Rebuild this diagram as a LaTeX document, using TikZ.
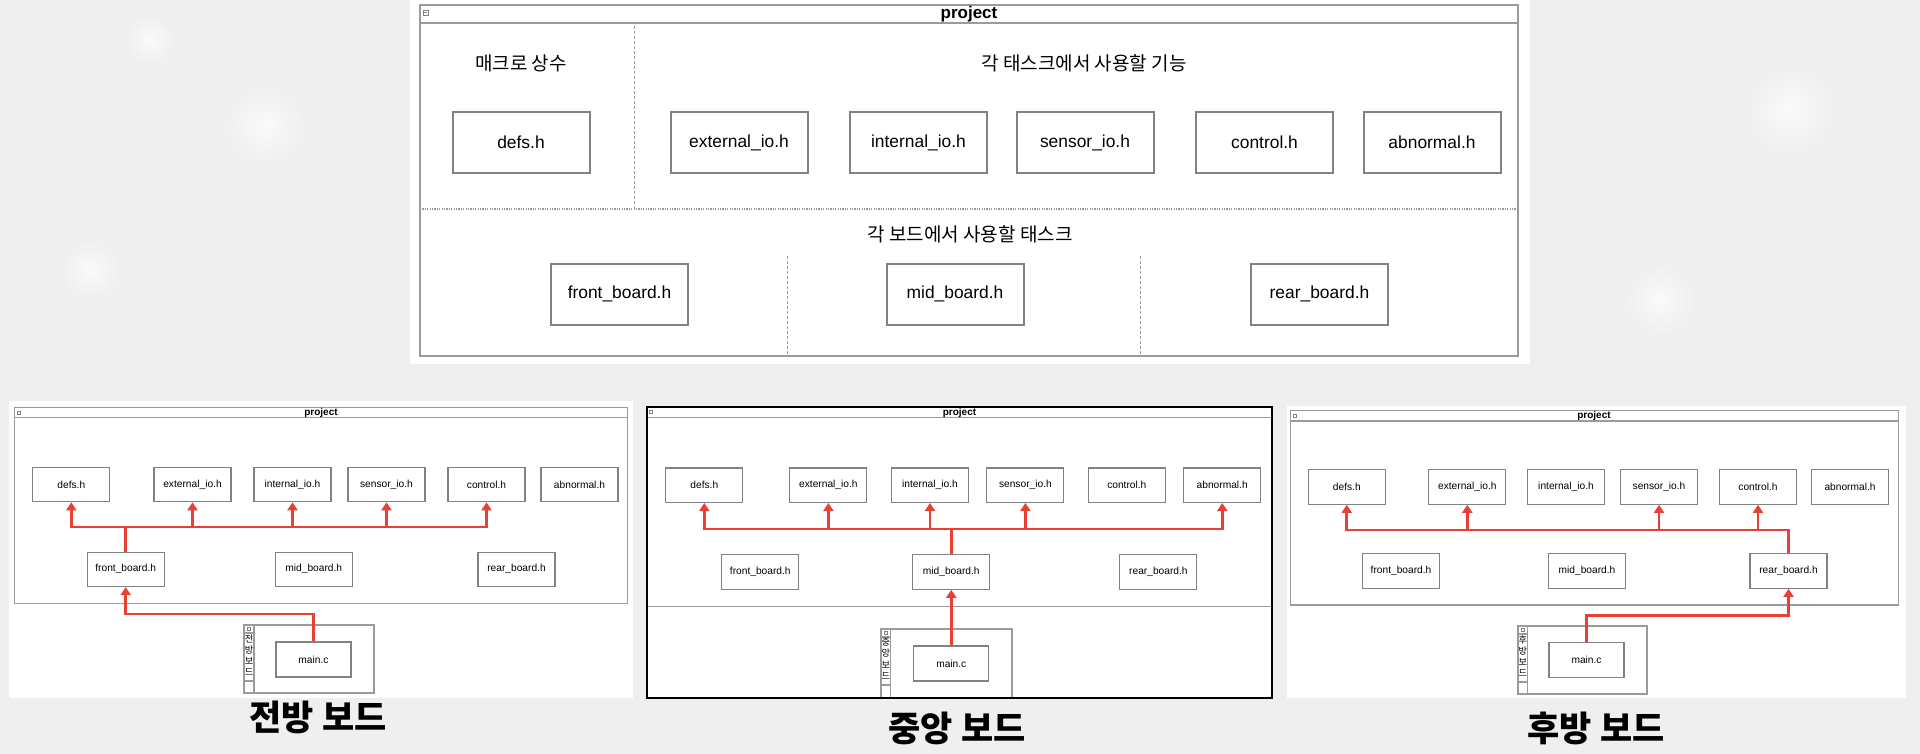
\documentclass[tikz,border=0pt]{standalone}
\usepackage{fontspec}
\setmainfont{Liberation Sans}
\newfontfamily\kr{Noto Sans CJK KR}
\newfontfamily\krblack{Noto Sans CJK KR Black}
\usetikzlibrary{arrows.meta}
\definecolor{bg}{RGB}{239,239,239}
\definecolor{bx}{RGB}{130,130,130}
\definecolor{fr}{RGB}{155,155,155}
\definecolor{rl}{RGB}{232,64,52}
\tikzset{
  bigbox/.style={draw=bx, line width=1pt, fill=white, minimum width=68.5pt, minimum height=30.5pt, inner sep=0pt, font=\fontsize{8.7}{10}\selectfont},
  smallbox/.style={draw=bx, line width=0.55pt, fill=white, minimum width=38.5pt, minimum height=17.25pt, inner sep=0pt, font=\fontsize{5.1}{6}\selectfont},
  mainbox/.style={smallbox, minimum width=37.5pt, minimum height=17.5pt},
  bigframe/.style={draw=fr, line width=0.9pt},
  smallframe/.style={draw=fr, line width=0.6pt},
  vdash/.style={draw=fr, line width=0.5pt, dash pattern=on 1.5pt off 1pt},
  hdot/.style={draw=fr, line width=0.6pt, dash pattern=on 0.6pt off 0.6pt},
  bigtitle/.style={font=\bfseries\fontsize{8.5}{10}\selectfont, inner sep=0pt},
  smalltitle/.style={font=\bfseries\fontsize{5}{6}\selectfont, inner sep=0pt},
  krlabel/.style={font=\kr\fontsize{9.5}{11}\selectfont, inner sep=0pt},
  striptext/.style={font=\kr\fontsize{4.6}{5.6}\selectfont, align=center, inner sep=0pt, anchor=north},
  boardlabel/.style={font=\krblack\fontsize{17.5}{20}\selectfont, inner sep=0pt},
  conn/.style={draw=rl, line width=1.35pt},
  arr/.style={conn, -{Triangle[width=5pt,length=4pt]}},
  blob/.style={inner color=white!70!bg, outer color=bg, draw=none}
}
\begin{document}
\begin{tikzpicture}[x=0.5pt,y=-0.5pt]
\useasboundingbox (0,0) rectangle (1920,754);
\fill[bg] (0,0) rectangle (1920,754);
% soft background spots
\shade[blob] (265,125) circle (40);
\shade[blob] (90,270) circle (30);
\shade[blob] (1790,110) circle (45);
\shade[blob] (1660,300) circle (35);
\shade[blob] (150,40) circle (25);

% ================= TOP PANEL =================
\fill[white] (410,0) rectangle (1530,364);
\draw[bigframe] (420,5) rectangle (1518,356);
\draw[bigframe] (420,23) -- (1518,23);
\draw[draw=bx, line width=0.3pt] (423,10) rectangle (428,15);
\draw[draw=bx, line width=0.3pt] (424,12.5) -- (427,12.5);
\node[bigtitle] (Ttitle) at (969,14) {project};
\draw[vdash] (634.6,26) -- (634.6,209);
\draw[hdot] (420,209) -- (1518,209);
\draw[vdash] (787,256) -- (787,356);
\draw[vdash] (1140,256) -- (1140,356);
\node[krlabel] (Tmacro) at (521,63) {매크로 상수};
\node[krlabel] (Tfunc) at (1084,63) {각 태스크에서 사용할 기능};
\node[krlabel] (Ttask) at (970,234) {각 보드에서 사용할 태스크};
\node[bigbox] (Tdefs) at (521,142.5) {defs.h};
\node[bigbox] (Text) at (739,142.5) {external\_io.h};
\node[bigbox] (Tint) at (918.5,142.5) {internal\_io.h};
\node[bigbox] (Tsen) at (1085,142.5) {sensor\_io.h};
\node[bigbox] (Tctl) at (1264.5,142.5) {control.h};
\node[bigbox] (Tabn) at (1432,142.5) {abnormal.h};
\node[bigbox] (Tfront) at (619.5,294) {front\_board.h};
\node[bigbox] (Tmid) at (955,294) {mid\_board.h};
\node[bigbox] (Trear) at (1319.5,294) {rear\_board.h};

% ================= LEFT PANEL (front board) =================
\fill[white] (9,401) rectangle (633,698);
\draw[smallframe] (14.7,407.7) rectangle (627.6,603.3);
\draw[smallframe] (14.7,417.7) -- (627.6,417.7);
\draw[draw=bx, line width=0.25pt] (17,411) rectangle (20,414);
\node[smalltitle] (Ltitle) at (321,412.7) {project};
\node[smallbox] (Ldefs) at (71.3,484.5) {defs.h};
\node[smallbox] (Lext) at (192.5,484.5) {external\_io.h};
\node[smallbox] (Lint) at (292.5,484.5) {internal\_io.h};
\node[smallbox] (Lsen) at (386.5,484.5) {sensor\_io.h};
\node[smallbox] (Lctl) at (486.5,484.5) {control.h};
\node[smallbox] (Labn) at (579.5,484.5) {abnormal.h};
\node[smallbox] (Lfront) at (125.7,569.3) {front\_board.h};
\node[smallbox] (Lmid) at (313.8,569.3) {mid\_board.h};
\node[smallbox] (Lrear) at (516.5,569.3) {rear\_board.h};
\draw[smallframe] (244,625) rectangle (374,693);
\draw[smallframe] (254,625) -- (254,693);
\draw[smallframe] (244,633) -- (254,633);
\draw[smallframe] (244,681) -- (254,681);
\draw[draw=bx, line width=0.25pt] (247.5,627) rectangle (250.5,630);
\node[striptext] (Lstrip) at (249,634) {전\\방\\보\\드};
\node[mainbox] (Lmain) at (313.5,659.5) {main.c};
\coordinate (Lbus) at (0,527);
\coordinate (Lturn) at (0,614);
\foreach \t in {Ldefs,Lext,Lint,Lsen,Lctl}
  \draw[arr] (Lfront.north) |- (\t.south |- Lbus) -- (\t.south);
\draw[arr] (Lmain.north) |- (Lfront.south |- Lturn) -- (Lfront.south);
\node[boardlabel] (Llabel) at (318,717) {전방 보드};

% ================= MIDDLE PANEL (mid board) =================
\fill[white] (646.5,406.7) rectangle (1271.6,698.3);
\draw[smallframe] (646.5,417.7) -- (1271.6,417.7);
\draw[smallframe] (646.5,606.7) -- (1271.6,606.7);
\draw[draw=bx, line width=0.25pt] (649,410) rectangle (652,413);
\node[smalltitle] (Mtitle) at (959.5,412.7) {project};
\node[smallbox] (Mdefs) at (704.3,485.2) {defs.h};
\node[smallbox] (Mext) at (828.4,485.2) {external\_io.h};
\node[smallbox] (Mint) at (930,485.2) {internal\_io.h};
\node[smallbox] (Msen) at (1025.4,485.2) {sensor\_io.h};
\node[smallbox] (Mctl) at (1126.8,485.2) {control.h};
\node[smallbox] (Mabn) at (1222.2,485.2) {abnormal.h};
\node[smallbox] (Mfront) at (760.3,572) {front\_board.h};
\node[smallbox] (Mmid) at (951.3,572) {mid\_board.h};
\node[smallbox] (Mrear) at (1158.4,572) {rear\_board.h};
\draw[smallframe] (881,629) rectangle (1012,698);
\draw[smallframe] (890.5,629) -- (890.5,698);
\draw[smallframe] (881,637) -- (890.5,637);
\draw[smallframe] (881,685) -- (890.5,685);
\draw[draw=bx, line width=0.25pt] (884.3,631) rectangle (887.3,634);
\node[striptext] (Mstrip) at (885.8,638) {중\\앙\\보\\드};
\node[mainbox] (Mmain) at (951.3,663.5) {main.c};
\coordinate (Mbus) at (0,529);
\foreach \t in {Mdefs,Mext,Mint,Msen,Mabn}
  \draw[arr] (Mmid.north) |- (\t.south |- Mbus) -- (\t.south);
\draw[arr] (Mmain.north) -- (Mmid.south);
\draw[black, line width=1pt] (646.5,406.7) rectangle (1271.6,698.3);
\node[boardlabel] (Mlabel) at (957,728) {중앙 보드};

% ================= RIGHT PANEL (rear board) =================
\fill[white] (1286.5,406) rectangle (1906,698);
\draw[smallframe] (1290.6,410.7) rectangle (1898.6,605);
\draw[smallframe] (1290.6,421) -- (1898.6,421);
\draw[draw=bx, line width=0.25pt] (1293,414) rectangle (1296,417);
\node[smalltitle] (Rtitle) at (1594,416) {project};
\node[smallbox] (Rdefs) at (1346.8,487) {defs.h};
\node[smallbox] (Rext) at (1467.3,487) {external\_io.h};
\node[smallbox] (Rint) at (1566,487) {internal\_io.h};
\node[smallbox] (Rsen) at (1659,487) {sensor\_io.h};
\node[smallbox] (Rctl) at (1758,487) {control.h};
\node[smallbox] (Rabn) at (1850,487) {abnormal.h};
\node[smallbox] (Rfront) at (1401,571) {front\_board.h};
\node[smallbox] (Rmid) at (1587,571) {mid\_board.h};
\node[smallbox] (Rrear) at (1788.5,571) {rear\_board.h};
\draw[smallframe] (1518,626) rectangle (1647,694);
\draw[smallframe] (1527.6,626) -- (1527.6,694);
\draw[smallframe] (1518,634) -- (1527.6,634);
\draw[smallframe] (1518,682) -- (1527.6,682);
\draw[draw=bx, line width=0.25pt] (1521.3,628) rectangle (1524.3,631);
\node[striptext] (Rstrip) at (1522.8,635) {후\\방\\보\\드};
\node[mainbox] (Rmain) at (1586.5,660) {main.c};
\coordinate (Rbus) at (0,530);
\coordinate (Rturn) at (0,615.7);
\foreach \t in {Rdefs,Rext,Rsen,Rctl}
  \draw[arr] (Rrear.north) |- (\t.south |- Rbus) -- (\t.south);
\draw[arr] (Rmain.north) |- (Rrear.south |- Rturn) -- (Rrear.south);
\node[boardlabel] (Rlabel) at (1596,728) {후방 보드};
\end{tikzpicture}
\end{document}
